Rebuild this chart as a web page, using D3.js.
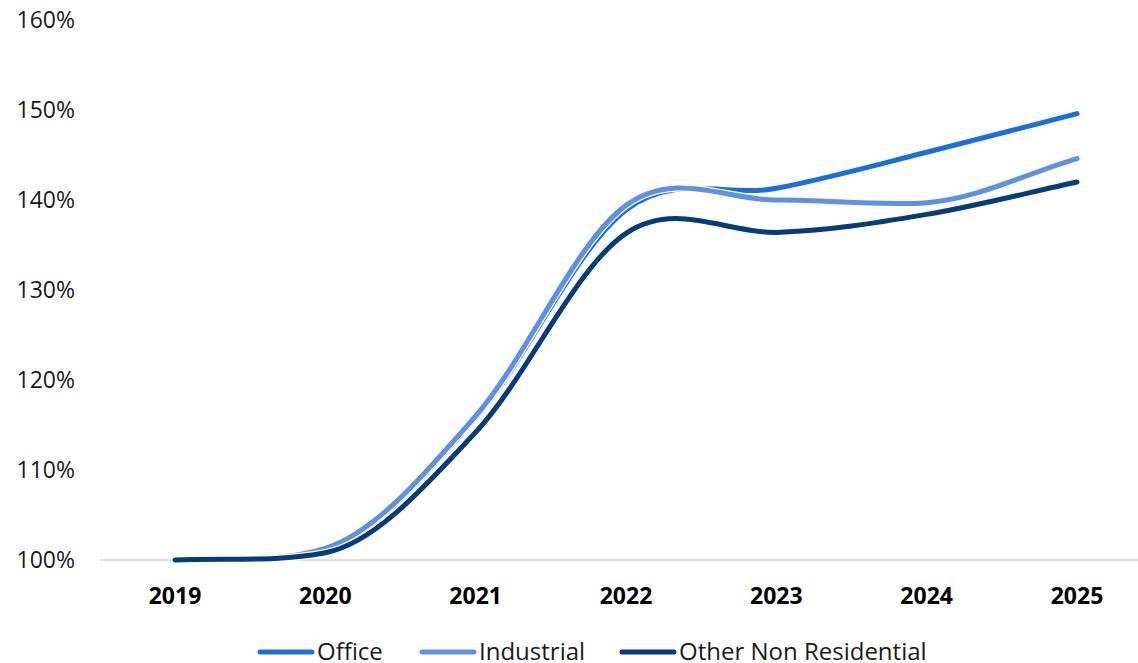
<!DOCTYPE html>
<html>
<head>
<meta charset="utf-8">
<script src="https://cdn.jsdelivr.net/npm/d3@7"></script>
<style>
  body { margin: 0; background: #fff; }
  text { font-family: "Open Sans", sans-serif; }
</style>
</head>
<body>
<svg id="chart"></svg>
<script>
const years = ["2019", "2020", "2021", "2022", "2023", "2024", "2025"];
const office = [100, 101.2, 115.8, 138.9, 141.3, 145.3, 149.6];
const industrial = [100, 101.3, 116.0, 139.4, 140.0, 139.7, 144.6];
const otherNonRes = [100, 100.8, 114.2, 136.3, 136.4, 138.4, 142.0];
const yTicks = [100, 110, 120, 130, 140, 150, 160];

const series = [
  { name: "Office", values: office, color: "#1a6fe0" },
  { name: "Industrial", values: industrial, color: "#5e91e3" },
  { name: "Other Non Residential", values: otherNonRes, color: "#053c7c" }
];

const width = 1138, height = 663;
const svg = d3.select("#chart").attr("width", width).attr("height", height);

const x = d3.scalePoint().domain(years).range([175, 1077]);
const y = d3.scaleLinear().domain([100, 160]).range([560, 20]);

// Excel-like smoothing: Catmull-Rom tangents, but the incoming tangent
// is capped so a flat segment doesn't dip much before a steep rise
function smoothPath(values) {
  const pts = values.map((v, i) => [x(years[i]), y(v)]);
  const n = pts.length;
  const s = d3.range(n - 1).map(i => (pts[i + 1][1] - pts[i][1]) / (pts[i + 1][0] - pts[i][0]));
  const m = pts.map((p, i) => {
    if (i === 0) return s[0];
    if (i === n - 1) return s[n - 2];
    return (pts[i + 1][1] - pts[i - 1][1]) / (pts[i + 1][0] - pts[i - 1][0]);
  });
  for (let i = 1; i < n; i++) {
    const lim = 4 * Math.abs(s[i - 1]);
    if (Math.abs(m[i]) > lim) m[i] = Math.sign(m[i]) * lim;
  }
  const p = d3.path();
  p.moveTo(pts[0][0], pts[0][1]);
  for (let i = 0; i < n - 1; i++) {
    const h = (pts[i + 1][0] - pts[i][0]) / 3;
    p.bezierCurveTo(
      pts[i][0] + h, pts[i][1] + m[i] * h,
      pts[i + 1][0] - h, pts[i + 1][1] - m[i + 1] * h,
      pts[i + 1][0], pts[i + 1][1]
    );
  }
  return p.toString();
}

// y labels
svg.append("g")
  .selectAll("text")
  .data(yTicks)
  .enter()
  .append("text")
  .attr("x", 75)
  .attr("y", d => y(d))
  .attr("dy", "0.35em")
  .attr("text-anchor", "end")
  .style("font-size", "23px")
  .style("fill", "#1a1a1a")
  .text(d => d + "%");

// x axis baseline
svg.append("line")
  .attr("x1", 100).attr("x2", 1138)
  .attr("y1", y(100)).attr("y2", y(100))
  .attr("stroke", "#d9d9d9")
  .attr("stroke-width", 1.5);

svg.append("g")
  .selectAll("text")
  .data(years)
  .enter()
  .append("text")
  .attr("x", d => x(d))
  .attr("y", 604)
  .attr("text-anchor", "middle")
  .style("font-size", "23px")
  .style("font-weight", "bold")
  .style("fill", "#000")
  .text(d => d);

const lines = svg.append("g");
series.forEach(s => {
  const d = smoothPath(s.values);
  lines.append("path")
    .attr("d", d)
    .attr("fill", "none")
    .attr("stroke", "#fff")
    .attr("stroke-width", 7.5)
    .attr("stroke-linecap", "round");
  lines.append("path")
    .attr("d", d)
    .attr("fill", "none")
    .attr("stroke", s.color)
    .attr("stroke-width", 5)
    .attr("stroke-linecap", "round");
});

// legend
const legendX = [258, 420, 620];
const legend = svg.append("g");
series.forEach((s, i) => {
  legend.append("line")
    .attr("x1", legendX[i] + 2).attr("x2", legendX[i] + 54)
    .attr("y1", 652).attr("y2", 652)
    .attr("stroke", s.color)
    .attr("stroke-width", 5)
    .attr("stroke-linecap", "round");
  legend.append("text")
    .attr("x", legendX[i] + 59)
    .attr("y", 652)
    .attr("dy", "0.35em")
    .style("font-size", "24px")
    .style("fill", "#1a1a1a")
    .text(s.name);
});
</script>
</body>
</html>
